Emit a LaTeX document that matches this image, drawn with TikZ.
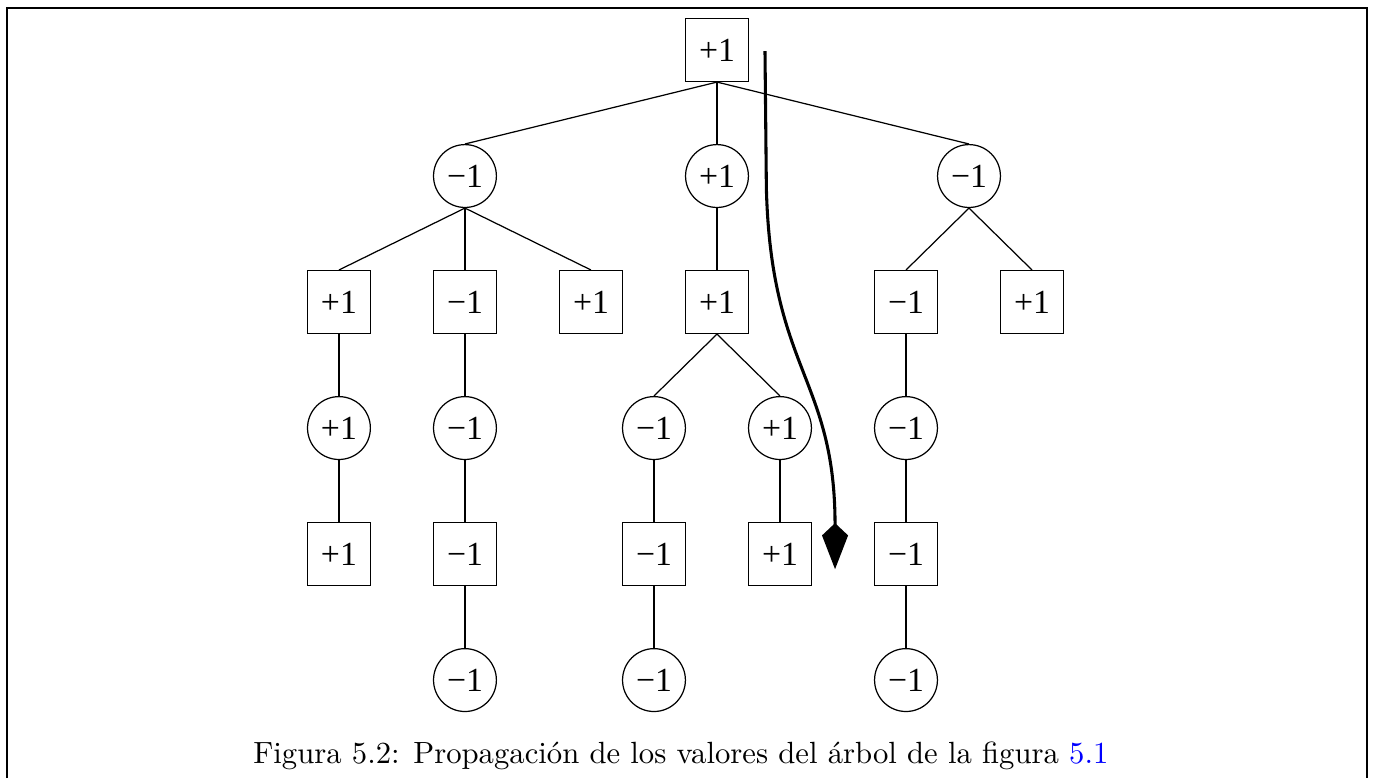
\documentclass[tikz,border=0pt]{standalone}
\usepackage{fontspec}
\newfontfamily\valfont{Liberation Serif}
\usetikzlibrary{arrows.meta}
\definecolor{refBlue}{RGB}{0,0,255}

\begin{document}
\begin{tikzpicture}[x=1.443cm,y=1.443cm,
      maxv/.style={draw,rectangle,minimum size=7.2mm,inner sep=0pt,
        font=\valfont\fontsize{11}{12}\selectfont},
      minv/.style={draw,circle,minimum size=7.2mm,inner sep=0pt,
        font=\valfont\fontsize{11}{12}\selectfont}]
    \useasboundingbox (-5.690,0.397) rectangle (5.222,-5.778);
    \draw (-5.635,-5.778) -- (-5.635,0.333) -- (5.159,0.333) -- (5.159,-5.778);
    % max levels
    \foreach \n/\x/\y/\v in {
        r/0/0/+1,
        a1/-3/-2/+1, a2/-2/-2/−1, a3/-1/-2/+1, b1/0/-2/+1, c1/1.5/-2/−1, c2/2.5/-2/+1,
        a1a1/-3/-4/+1, a2a1/-2/-4/−1, b1a1/-0.5/-4/−1, b1b1/0.5/-4/+1, c1a1/1.5/-4/−1} {
      \node[maxv] (\n) at (\x,\y) {\v};
    }
    % min levels
    \foreach \n/\x/\y/\v in {
        a/-2/-1/−1, b/0/-1/+1, c/2/-1/−1,
        a1a/-3/-3/+1, a2a/-2/-3/−1, b1a/-0.5/-3/−1, b1b/0.5/-3/+1, c1a/1.5/-3/−1,
        a2a1a/-2/-5/−1, b1a1a/-0.5/-5/−1, c1a1a/1.5/-5/−1} {
      \node[minv] (\n) at (\x,\y) {\v};
    }
    \foreach \p/\c in {r/a, r/b, r/c, a/a1, a/a2, a/a3, b/b1, c/c1, c/c2,
        a1/a1a, a2/a2a, b1/b1a, b1/b1b, c1/c1a,
        a1a/a1a1, a2a/a2a1, b1a/b1a1, b1b/b1b1, c1a/c1a1,
        a2a1/a2a1a, b1a1/b1a1a, c1a1/c1a1a} {
      \draw (\p.south) -- (\c.north);
    }
    % propagation arrow
    \coordinate (top) at (0.381,-0.008);
    \coordinate (bend) at (0.392,-1.1);
    \coordinate (bottom) at (0.937,-4.12);
    \draw[line width=1pt,-{Kite[length=15pt,width=8.5pt,inset=4pt]}]
      (top) -- (bend) .. controls (0.43,-2.55) and (0.937,-2.6) .. (bottom);
    \node[anchor=base] (cap) at (-0.286,-5.659)
      {Figura 5.2: Propagación de los valores del árbol de la figura \textcolor{refBlue}{5.1}};
  \end{tikzpicture}
\end{document}
